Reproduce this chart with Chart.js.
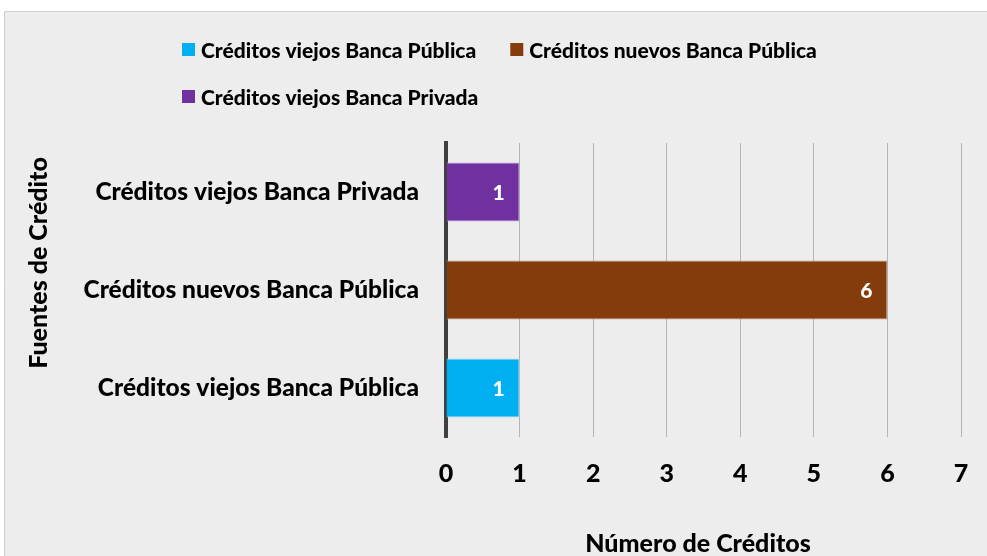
<!DOCTYPE html>
<html>
<head>
<meta charset="utf-8">
<script src="https://cdn.jsdelivr.net/npm/chart.js@4.4.1/dist/chart.umd.min.js"></script>
<style>
  html, body { margin: 0; padding: 0; background: #ffffff; }
  #wrap { position: absolute; left: 0; top: 0; width: 987px; height: 556px; }
</style>
</head>
<body>
<div id="wrap"><canvas id="c" width="987" height="556"></canvas></div>
<script>
// ---- data ----
const categories = ["Créditos viejos Banca Privada", "Créditos nuevos Banca Pública", "Créditos viejos Banca Pública"];
const seriesNames = ["Créditos viejos Banca Pública", "Créditos nuevos Banca Pública", "Créditos viejos Banca Privada"];
const viejosPublica = [null, null, 1];
const nuevosPublica = [null, 6, null];
const viejosPrivada = [1, null, null];
const xMin = 0, xMax = 7, xStep = 1;
const xTitle = "Número de Créditos";
const yTitle = "Fuentes de Crédito";

const FONT = "Lato";
const W = '900';
const fillColors = ["#00B0F0", "#843C0C", "#7030A0"];
const borderColors = ["#A9DEF5", "#C09A80", "#B392CC"];

const frame = {
  id: 'frame',
  beforeDraw(chart) {
    const ctx = chart.ctx;
    ctx.save();
    ctx.fillStyle = '#ffffff';
    ctx.fillRect(0, 0, chart.width, chart.height);
    ctx.fillStyle = '#EDEDED';
    ctx.fillRect(4, 11, chart.width, chart.height);
    ctx.strokeStyle = '#CFCFCF';
    ctx.lineWidth = 1;
    ctx.beginPath();
    ctx.moveTo(4.5, chart.height);
    ctx.lineTo(4.5, 11.5);
    ctx.lineTo(chart.width, 11.5);
    ctx.stroke();
    ctx.restore();
  }
};

const extras = {
  id: 'extras',
  afterDatasetsDraw(chart) {
    const ctx = chart.ctx;
    ctx.save();
    // data labels
    ctx.fillStyle = '#ffffff';
    ctx.font = W + ' 21px ' + FONT;
    ctx.textAlign = 'center';
    ctx.textBaseline = 'middle';
    chart.data.datasets.forEach((ds, di) => {
      const meta = chart.getDatasetMeta(di);
      meta.data.forEach((el, i) => {
        const v = ds.data[i];
        if (v === null || v === undefined) return;
        ctx.fillText(String(v), el.x - 21, el.y + 1);
      });
    });
    ctx.restore();
  },
  afterDraw(chart) {
    const ctx = chart.ctx;
    ctx.save();
    // legend
    ctx.font = W + ' 21px ' + FONT;
    ctx.textBaseline = 'middle';
    ctx.textAlign = 'left';
    const startX = 182, rowY = [50, 97], maxW = 700, gap = 34;
    let x = startX, row = 0;
    chart.data.datasets.forEach((ds, i) => {
      const tw = ctx.measureText(ds.label).width;
      const w = 13 + 6 + tw;
      if (x > startX && (x - startX) + w > maxW) { row++; x = startX; }
      const y = rowY[row];
      ctx.fillStyle = ds.backgroundColor;
      ctx.fillRect(x, y - 7, 13, 13);
      ctx.fillStyle = '#000000';
      ctx.fillText(ds.label, x + 19, y + 1);
      x += w + gap;
    });
    // axis titles
    ctx.font = W + ' 25px ' + FONT;
    ctx.fillStyle = '#000000';
    ctx.textAlign = 'center';
    ctx.fillText(xTitle, 698, 544);
    ctx.translate(39, 263);
    ctx.rotate(-Math.PI / 2);
    ctx.fillText(yTitle, 0, 0);
    ctx.restore();
  }
};

const seriesData = [viejosPublica, nuevosPublica, viejosPrivada];
new Chart(document.getElementById('c'), {
  type: 'bar',
  data: {
    labels: categories,
    datasets: seriesNames.map((name, i) => ({
      label: name,
      data: seriesData[i],
      backgroundColor: fillColors[i],
      borderColor: borderColors[i],
      borderWidth: 1,
      grouped: false,
      categoryPercentage: 1.0,
      barPercentage: 0.6
    }))
  },
  options: {
    indexAxis: 'y',
    responsive: false,
    animation: false,
    devicePixelRatio: 1,
    layout: { padding: { top: 143, right: 26, bottom: 0, left: 0 } },
    plugins: { legend: { display: false }, tooltip: { enabled: false } },
    scales: {
      x: {
        min: xMin, max: xMax,
        ticks: { stepSize: xStep, color: '#000', font: { family: FONT, size: 25, weight: W }, padding: 22 },
        grid: { drawTicks: false, color: (c) => c.index === 0 ? 'rgba(0,0,0,0)' : '#B4B4B4', lineWidth: 1 },
        border: { display: false },
        afterFit(s) { s.height = 119; s.paddingRight = 0; s.paddingLeft = 0; }
      },
      y: {
        ticks: { color: '#000', font: { family: FONT, size: 24.5, weight: W }, padding: 27 },
        grid: { display: false, drawTicks: false },
        border: { display: true, color: '#404040', width: 4 },
        afterFit(s) { s.width = 446; }
      }
    }
  },
  plugins: [frame, extras]
});
</script>
</body>
</html>
